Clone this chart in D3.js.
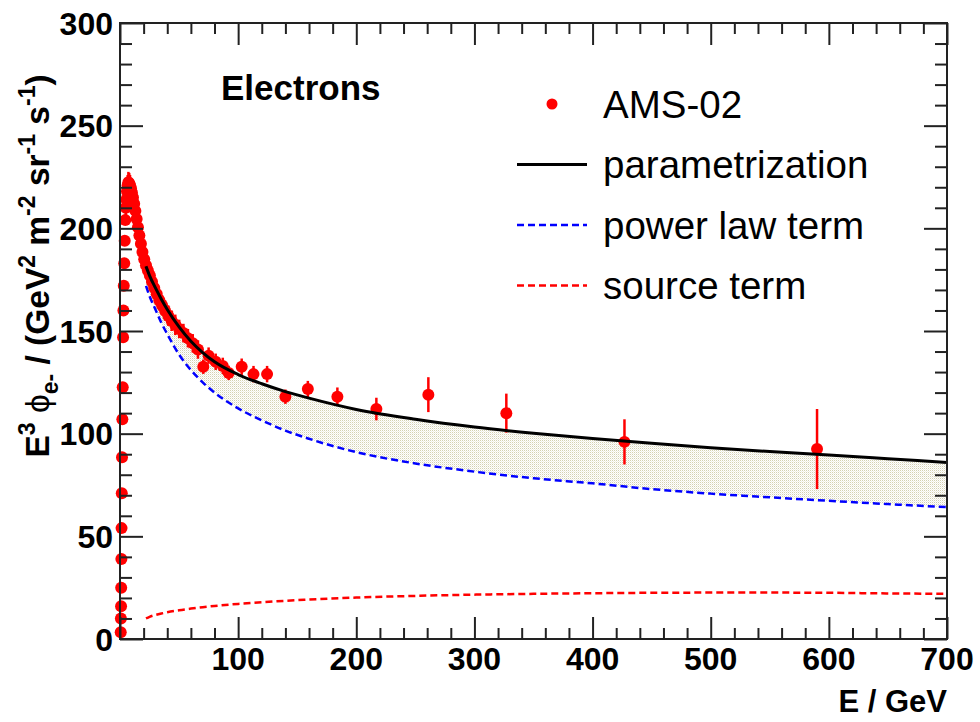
<!DOCTYPE html>
<html>
<head>
<meta charset="utf-8">
<script src="https://cdn.jsdelivr.net/npm/d3@7/dist/d3.min.js"></script>
<style>
  html, body { margin: 0; padding: 0; background: #fff; }
  svg { display: block; font-family: "Liberation Sans", Arial, Helvetica, sans-serif; }
</style>
</head>
<body>
<svg id="chart" width="980" height="722"></svg>
<script>
// AMS-02 electron spectrum, E^3 * flux (GeV^2 m^-2 sr^-1 s^-1)
const amsE = [0.6, 0.75, 0.9, 1.0, 1.15, 1.3, 1.5, 1.7, 2.0, 2.3, 2.6, 2.9, 3.2, 3.6, 4.0, 4.5,
  4.9, 5.4, 5.9, 6.5, 7.1, 7.8, 8.5, 9.3, 10.1, 11.0, 12.0, 13.0, 14.1, 15.2, 16.4, 17.7, 19.0,
  20.5, 22.0, 23.6, 25.3, 27.1, 29.0, 31.1, 33.3, 35.6, 38.1, 40.8, 43.7, 46.8, 50.1, 53.7, 57.5,
  61.6, 66.0, 70.5, 75, 81, 87, 92, 103, 113, 124.5, 140, 159, 184, 217, 261, 327, 427, 590];
const amsFlux = [3.3, 10, 16, 25, 39, 54, 71, 88.5, 107, 122.6, 147, 160, 172, 183, 194, 204,
  210, 214, 218, 221, 222.5, 222, 221, 219.5, 217.5, 215, 212, 208.5, 204.5, 200.5, 196.5, 192.5, 188.5,
  185, 182, 179.5, 177, 174, 171, 168, 165, 162.5, 160, 157.5, 155, 153, 151, 149, 146.5,
  144, 141, 132.6, 138, 135, 133, 129.6, 132.6, 129, 129, 118, 121.7, 118, 112, 119, 110, 96, 92.5];
const amsErr = [1.5, 1.5, 1.5, 1.5, 1.5, 1.5, 1.5, 1.5, 1.5, 1.5, 1.5, 1.5, 1.5, 1.5, 1.5, 2,
  4, 4.5, 4.5, 5, 5, 5, 5, 5, 5, 5.5, 5.5, 5.5, 6, 6, 6, 6, 6,
  6, 6, 6, 6, 5.5, 5.5, 5.5, 5, 5, 5, 5, 5, 5, 4.5, 4.5, 4.5,
  4.5, 4.5, 3.5, 4, 4, 4, 3.5, 4, 4, 4, 3.5, 4, 4.5, 5.5, 8.5, 9.5, 11, 19.5];

// Model curves evaluated on an energy grid
const modelE = [22, 25, 30, 35, 40, 50, 60, 70, 80, 100, 120, 140, 160, 200, 250, 300, 350, 400,
  450, 500, 550, 600, 650, 700];
const paramFlux = [181.5, 177, 171, 165.5, 160.5, 152, 145, 139.5, 135, 128.8, 124.3, 120.5, 117.3,
  111.8, 107, 103.2, 100.2, 97.6, 95.3, 93.2, 91.3, 89.6, 87.8, 86];
const powerLawFlux = [172, 167, 160.5, 154, 148.5, 138.5, 131, 125, 120, 112.3, 106.5, 101.5,
  97.5, 91, 85.5, 81.5, 78.3, 75.8, 73, 70.8, 69, 67.3, 65.7, 64.2];
const sourceFlux = [10, 10.8, 11.7, 12.4, 13, 14, 14.8, 15.5, 16.1, 17.1, 17.9, 18.6, 19.2, 20.2,
  21, 21.6, 22, 22.3, 22.5, 22.6, 22.6, 22.5, 22.2, 22];

const xMajor = [0, 100, 200, 300, 400, 500, 600, 700];
const yMajor = [0, 50, 100, 150, 200, 250, 300];
const xLabels = ["", "100", "200", "300", "400", "500", "600", "700"];

const svg = d3.select("#chart");
const L = 120, R = 947, T = 23, B = 639;
const x = d3.scaleLinear().domain([0, 700]).range([L, R]);
const y = d3.scaleLinear().domain([0, 300]).range([B, T]);

// dotted fill for the source contribution band
const defs = svg.append("defs");
const pat = defs.append("pattern").attr("id", "dots").attr("patternUnits", "userSpaceOnUse")
  .attr("width", 2).attr("height", 2);
pat.append("rect").attr("width", 2).attr("height", 2).attr("fill", "#ffffff");
pat.append("rect").attr("x", 0).attr("y", 0).attr("width", 1).attr("height", 1).attr("fill", "#d3d1b2");
pat.append("rect").attr("x", 1).attr("y", 1).attr("width", 1).attr("height", 1).attr("fill", "#efeee3");
defs.append("clipPath").attr("id", "plotclip").append("rect")
  .attr("x", L).attr("y", T).attr("width", R - L).attr("height", B - T);

const model = modelE.map((e, i) => ({ e, p: paramFlux[i], w: powerLawFlux[i], s: sourceFlux[i] }));
const line = key => d3.line().x(d => x(d.e)).y(d => y(d[key])).curve(d3.curveMonotoneX);

// band between the full parametrization and the power-law term
const under = svg.append("g").attr("clip-path", "url(#plotclip)");
under.append("path").datum(model)
  .attr("fill", "url(#dots)")
  .attr("d", d3.area().x(d => x(d.e)).y0(d => y(d.w)).y1(d => y(d.p)).curve(d3.curveMonotoneX));
under.append("path").datum(model).attr("fill", "none").attr("stroke", "#0000ff")
  .attr("stroke-width", 2.5).attr("stroke-dasharray", "7,4").attr("d", line("w"));
under.append("path").datum(model).attr("fill", "none").attr("stroke", "#ff0000")
  .attr("stroke-width", 2.5).attr("stroke-dasharray", "7,4").attr("d", line("s"));

// data points
const pts = amsE.map((e, i) => ({ e, f: amsFlux[i], err: amsErr[i] }));
const dataG = svg.append("g");
dataG.append("g").selectAll("line").data(pts).join("line")
  .attr("x1", d => x(d.e)).attr("x2", d => x(d.e))
  .attr("y1", d => y(d.f - d.err)).attr("y2", d => y(d.f + d.err))
  .attr("stroke", "#ff0000").attr("stroke-width", 2.5);
dataG.append("g").selectAll("circle").data(pts).join("circle")
  .attr("cx", d => x(d.e)).attr("cy", d => y(d.f)).attr("r", 6).attr("fill", "#ff0000");

// parametrization drawn over the data
svg.append("g").attr("clip-path", "url(#plotclip)")
  .append("path").datum(model).attr("fill", "none").attr("stroke", "#000")
  .attr("stroke-width", 3).attr("d", line("p"));

// frame and ticks
const axisColor = "#222";
svg.append("rect").attr("x", L).attr("y", T).attr("width", R - L).attr("height", B - T)
  .attr("fill", "none").attr("stroke", axisColor).attr("stroke-width", 2);

const xMinor = d3.range(0, 701, 20).filter(v => v % 100 !== 0);
const yMinor = d3.range(0, 301, 10).filter(v => v % 50 !== 0);

function ticks(axisFn, scale, pos, values, size) {
  const g = svg.append("g").attr("transform", pos)
    .call(axisFn(scale).tickValues(values).tickSize(size).tickFormat(""));
  g.select(".domain").remove();
  g.selectAll("line").attr("stroke", axisColor).attr("stroke-width", 2);
  return g;
}
ticks(d3.axisBottom, x, `translate(0,${B})`, xMajor, -22);
ticks(d3.axisBottom, x, `translate(0,${B})`, xMinor, -11);
ticks(d3.axisTop, x, `translate(0,${T})`, xMajor, -22);
ticks(d3.axisTop, x, `translate(0,${T})`, xMinor, -11);
ticks(d3.axisLeft, y, `translate(${L},0)`, yMajor, -23);
ticks(d3.axisLeft, y, `translate(${L},0)`, yMinor, -12);
ticks(d3.axisRight, y, `translate(${R},0)`, yMajor, -23);
ticks(d3.axisRight, y, `translate(${R},0)`, yMinor, -12);

// tick labels
svg.append("g").selectAll("text").data(yMajor).join("text")
  .attr("x", 113).attr("y", d => y(d)).attr("dy", "0.36em")
  .attr("text-anchor", "end").attr("font-size", 32).attr("font-weight", "bold")
  .text(d => d);
svg.append("g").selectAll("text").data(xMajor).join("text")
  .attr("x", d => x(d)).attr("y", 670)
  .attr("text-anchor", "middle").attr("font-size", 32).attr("font-weight", "bold")
  .text((d, i) => xLabels[i]);

// axis titles
svg.append("text").attr("x", R).attr("y", 712).attr("text-anchor", "end")
  .attr("font-size", 31).attr("font-weight", "bold").text("E / GeV");

const yt = svg.append("text").attr("transform", "translate(49,266) rotate(-90)")
  .attr("text-anchor", "middle").attr("font-size", 33.5).attr("font-weight", "bold");
const sup = 23, up = 14, down = 9;
yt.append("tspan").text("E");
yt.append("tspan").attr("font-size", sup).attr("dy", -up).text("3");
yt.append("tspan").attr("dy", up).attr("font-weight", "normal").text(" \u03d5");
yt.append("tspan").attr("font-size", sup).attr("dy", down).text("e-");
yt.append("tspan").attr("dy", -down).text(" / (GeV");
yt.append("tspan").attr("font-size", sup).attr("dy", -up).text("2");
yt.append("tspan").attr("dy", up).text(" m");
yt.append("tspan").attr("font-size", sup).attr("dy", -up).text("-2");
yt.append("tspan").attr("dy", up).text(" sr");
yt.append("tspan").attr("font-size", sup).attr("dy", -up).text("-1");
yt.append("tspan").attr("dy", up).text(" s");
yt.append("tspan").attr("font-size", sup).attr("dy", -up).text("-1");
yt.append("tspan").attr("dy", up).text(")");

// panel label
svg.append("text").attr("x", 221).attr("y", 100).attr("font-size", 35)
  .attr("font-weight", "bold").text("Electrons");

// legend
const legend = [
  { label: "AMS-02", type: "marker" },
  { label: "parametrization", type: "line", color: "#000", dash: null, w: 3 },
  { label: "power law term", type: "line", color: "#0000ff", dash: "7,4", w: 2.5 },
  { label: "source term", type: "line", color: "#ff0000", dash: "7,4", w: 2.5 }
];
const lg = svg.append("g");
legend.forEach((d, i) => {
  const cy = 104 + i * 60.5;
  if (d.type === "marker") {
    lg.append("circle").attr("cx", 552).attr("cy", cy).attr("r", 5.5).attr("fill", "#ff0000");
  } else {
    lg.append("line").attr("x1", 517).attr("x2", 587).attr("y1", cy).attr("y2", cy)
      .attr("stroke", d.color).attr("stroke-width", d.w).attr("stroke-dasharray", d.dash);
  }
  lg.append("text").attr("x", 603).attr("y", cy).attr("dy", "0.36em")
    .attr("font-size", 38.5).text(d.label);
});
</script>
</body>
</html>
